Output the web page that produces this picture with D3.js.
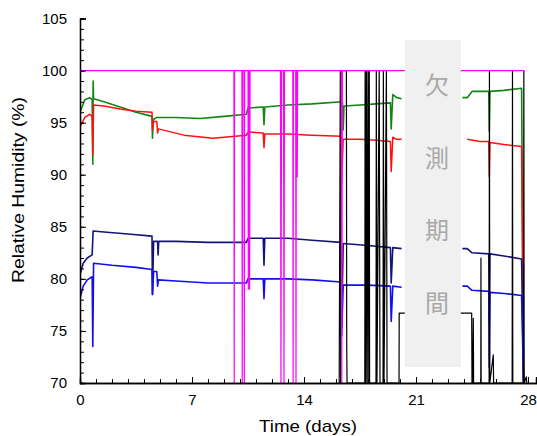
<!DOCTYPE html>
<html>
<head>
<meta charset="utf-8">
<script src="https://cdn.jsdelivr.net/npm/d3@7"></script>
<style>
  body { margin: 0; background: #fff; }
  text { font-family: Arial, "Liberation Sans", sans-serif; }
</style>
</head>
<body>
<svg id="chart" width="537" height="436"></svg>
<script>
// axis ticks
var xTicks = [0, 7, 14, 21, 28];
var yTicks = [70, 75, 80, 85, 90, 95, 100, 105];
var gapLabel = ['欠', '測', '期', '間'];

// series: [day, RH %]  (null = no data)
var greenRH = [
  [0, 96.0], [0.3, 97.2], [0.6, 97.4], [0.76, 97.2], [0.8, 91.0], [0.82, 99.0], [0.85, 97.3],
  [1.5, 97.0], [2.5, 96.5], [3.5, 96.0], [4.5, 95.6], [4.53, 93.5], [4.58, 95.3], [4.8, 95.5],
  [6, 95.5], [7.5, 95.4], [9, 95.6], [10.4, 95.8], [10.5, 96.4], [11.45, 96.5], [11.5, 94.8],
  [11.55, 96.5], [13, 96.7], [14.5, 96.8], [16.4, 97.0], [16.45, 94.3], [16.5, 96.6],
  [17.5, 96.7], [18.5, 96.8], [19.4, 96.9], [19.45, 94.4], [19.55, 97.7], [19.8, 97.4],
  [20.1, 97.3], [21, null], [23.9, 97.4], [24.2, 97.4], [24.5, 98.0], [25.55, 98.0],
  [25.58, 94.2], [25.62, 98.0], [26.5, 98.1], [27.6, 98.3], [27.72, 70]
];
var redRH = [
  [0, 94.6], [0.3, 95.5], [0.6, 95.8], [0.76, 95.6], [0.8, 91.9], [0.85, 96.7],
  [1.5, 96.6], [2.5, 96.3], [3.5, 96.1], [4.5, 96.0], [4.53, 94.3], [4.6, 95.1], [4.8, 95.1],
  [4.85, 94.0], [4.9, 94.4], [6.5, 93.8], [8.3, 93.5], [10.4, 93.8], [10.5, 94.1],
  [11.45, 94.0], [11.5, 92.6], [11.55, 93.9], [13, 93.9], [14.5, 93.8], [16.3, 93.7],
  [16.35, 89.2], [16.45, 93.4], [17.5, 93.4], [18.5, 93.3], [19.4, 93.2], [19.45, 90.3],
  [19.55, 93.6], [19.8, 93.4], [20.1, 93.4], [21, null], [24.2, 93.4], [25, 93.2],
  [25.55, 93.2], [25.58, 89.8], [25.62, 93.1], [26.5, 92.9], [27.6, 92.7], [27.72, 70]
];
var navyRH = [
  [0, 80.4], [0.2, 81.5], [0.45, 82.0], [0.76, 82.3], [0.82, 84.6], [1.5, 84.5], [3, 84.3],
  [4.5, 84.1], [4.53, 78.5], [4.6, 83.6], [4.85, 83.6], [4.88, 82.3], [4.92, 83.6], [6, 83.6],
  [8, 83.5], [10.4, 83.5], [10.5, 83.9], [11.45, 83.9], [11.5, 81.3], [11.55, 83.9],
  [13, 83.9], [14.5, 83.7], [16.3, 83.5], [16.35, 75.4], [16.45, 83.4], [18, 83.2],
  [19.4, 83.0], [19.45, 79.6], [19.55, 83.0], [20.1, 82.9], [21, null], [23.9, 82.9],
  [24.2, 82.9], [24.5, 82.5], [25.55, 82.4], [25.58, 75.8], [25.62, 82.4], [26.5, 82.2],
  [27.6, 81.9], [27.72, 70]
];
var blueRH = [
  [0, 78.1], [0.2, 79.3], [0.45, 79.9], [0.76, 80.2], [0.8, 73.5], [0.85, 81.5], [2, 81.3],
  [3.5, 81.1], [4.5, 80.9], [4.53, 78.5], [4.6, 80.7], [4.8, 80.7], [4.85, 79.3], [4.9, 79.9],
  [6, 79.8], [8, 79.6], [10.4, 79.6], [10.5, 80.0], [11.45, 80.0], [11.5, 78.1], [11.55, 80.0],
  [13, 80.0], [14.5, 79.9], [16.3, 79.7], [16.35, 74.5], [16.45, 79.4], [18, 79.4],
  [19.4, 79.3], [19.45, 75.9], [19.55, 79.3], [20.1, 79.2], [21, null], [23.9, 79.3],
  [24.2, 79.3], [24.5, 78.9], [25.55, 78.8], [25.58, 71.5], [25.62, 78.7], [26.5, 78.6],
  [27.6, 78.4], [27.72, 70]
];
var magentaRH = [
  [0, 100], [9.62, 100], [9.64, 70], [9.66, 100], [10.12, 100], [10.14, 70], [10.16, 100],
  [10.25, 100], [10.27, 70], [10.29, 100], [10.5, 100], [10.52, 79], [10.56, 100], [10.6, 79],
  [10.63, 100], [12.53, 100], [12.56, 70], [12.6, 100], [12.72, 100], [12.75, 70],
  [12.78, 100], [13.3, 100], [13.32, 70], [13.34, 100], [13.48, 100], [13.5, 70], [13.52, 100],
  [13.56, 100], [13.58, 89.8], [13.6, 100], [16.33, 100], [16.36, 70], [16.4, 100], [27.7, 100]
];
var blackRH = [
  [16.2, 70], [16.27, 100], [16.29, 70], [16.31, 100], [16.65, 100], [16.67, 74], [16.69, 70],
  [17.8, 70], [17.82, 100], [17.86, 70], [17.9, 100], [17.95, 70], [18.0, 100], [18.05, 70],
  [18.08, 100], [18.1, 70], [18.5, 70], [18.52, 100], [18.56, 70], [18.7, 100], [18.75, 70],
  [18.94, 70], [18.96, 100], [19.0, 70], [19.15, 100], [19.19, 70], [19.94, 70], [19.95, 76.7],
  [24.48, 76.7], [24.5, 70], [24.52, 72.1], [24.54, 70], [24.58, 76.2], [24.6, 70],
  [25.05, 70], [25.06, 82.0], [25.07, 70], [25.57, 70], [25.59, 100], [25.61, 70],
  [25.83, 72.7], [25.85, 70], [27.01, 70], [27.03, 100], [27.05, 70], [27.72, 70],
  [27.74, 100], [27.76, 70], [27.9, 70.6], [27.92, 70]
];

var svg = d3.select('#chart');
var x = d3.scaleLinear().domain([0, 28.5]).range([80, 536]);
var y = d3.scaleLinear().domain([70, 105]).range([383, 18.5]);

svg.append('defs').append('clipPath').attr('id', 'plotClip')
  .append('rect').attr('x', 80).attr('y', 18).attr('width', 456).attr('height', 366);

var line = d3.line()
  .defined(d => d[1] != null)
  .x(d => x(d[0])).y(d => y(d[1]));

var plot = svg.append('g').attr('clip-path', 'url(#plotClip)');

var series = [
  {data: greenRH, color: '#128612', w: 1.6},
  {data: redRH, color: '#ff1010', w: 1.5},
  {data: navyRH, color: '#14147a', w: 1.6},
  {data: blueRH, color: '#1010ee', w: 1.6},
  {data: blackRH, color: '#000', w: 1.2},
  {data: magentaRH, color: '#ff00ff', w: 1.2}
];
for ( var s of series ) {
  plot.append('path').datum(s.data)
    .attr('d', line)
    .attr('fill', 'none')
    .attr('stroke', s.color).attr('stroke-width', s.w)
    .attr('stroke-linejoin', 'round');
}

// missing-data box
svg.append('rect')
  .attr('x', x(20.3)).attr('y', 40)
  .attr('width', x(23.8) - x(20.3)).attr('height', 327)
  .attr('fill', '#f0f0f0');
svg.selectAll('.gapChar').data(gapLabel).enter().append('text')
  .attr('class', 'gapChar')
  .attr('x', 437).attr('y', (d, i) => 94 + i * 72.5)
  .attr('text-anchor', 'middle')
  .style('font-family', '"Noto Sans CJK JP", sans-serif')
  .attr('font-size', '24px').attr('fill', '#a9a9a9')
  .text(d => d);

// axes: ticks point inward
var yAxis = d3.axisLeft(y).tickValues(yTicks).tickSize(-6).tickPadding(13).tickFormat(d3.format('d'));
var yMinor = d3.axisLeft(y).tickValues(d3.range(70, 106, 1)).tickSize(-4).tickFormat('');
var xAxis = d3.axisBottom(x).tickValues(xTicks).tickSize(-6).tickPadding(11).tickFormat(d3.format('d'));
var xMinor = d3.axisBottom(x).tickValues(d3.range(0, 29, 1)).tickSize(-4).tickFormat('');

function styleAxis(g) {
  g.select('.domain').attr('stroke', '#000').attr('stroke-width', 1.3);
  g.selectAll('.tick line').attr('stroke', '#000').attr('stroke-width', 1);
  g.selectAll('text').attr('font-size', '15px').attr('fill', '#000')
    .style('font-family', 'Arial, "Liberation Sans", sans-serif');
}
svg.append('g').attr('transform', 'translate(80,0)').call(yMinor).call(styleAxis);
svg.append('g').attr('transform', 'translate(80,0)').call(yAxis).call(styleAxis);
svg.append('g').attr('transform', 'translate(0,383)').call(xMinor).call(styleAxis);
svg.append('g').attr('transform', 'translate(0,383)').call(xAxis).call(styleAxis);

svg.append('text')
  .attr('x', 308).attr('y', 432)
  .attr('text-anchor', 'middle').attr('font-size', '17px')
  .attr('textLength', 98).attr('lengthAdjust', 'spacingAndGlyphs')
  .text('Time (days)');
svg.append('text')
  .attr('transform', 'translate(24,190) rotate(-90)')
  .attr('text-anchor', 'middle').attr('font-size', '17px')
  .attr('textLength', 186).attr('lengthAdjust', 'spacingAndGlyphs')
  .text('Relative Humidity (%)');
</script>
</body>
</html>
